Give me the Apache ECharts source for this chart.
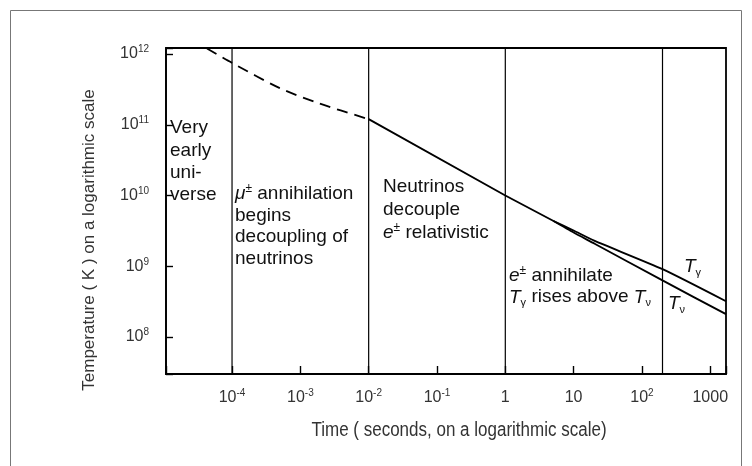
<!DOCTYPE html>
<html><head><meta charset="utf-8">
<script src="https://cdn.jsdelivr.net/npm/echarts@6/dist/echarts.min.js"></script>
<style>html,body{margin:0;padding:0;background:#fff}#c{width:752px;height:466px}</style>
</head><body><div id="c"></div>
<script>
// Time (s) and temperature (K)
const earlyTime = [4.3e-5, 1.0e-4, 5.0e-4, 1.9e-3, 1.0e-2];
const earlyTemp = [1.2e12, 7.5e11, 3.3e11, 2.0e11, 1.2e11];
const commonTime = [1.0e-2, 1.0, 5.0];
const commonTemp = [1.2e11, 1.0e10, 4.4e9];
const photonTime = [5.0, 10, 20, 200, 1700];
const photonTemp = [4.4e9, 3.2e9, 2.3e9, 9.1e8, 3.2e8];
const neutrinoTime = [5.0, 10, 20, 200, 1700];
const neutrinoTemp = [4.4e9, 3.0e9, 2.1e9, 6.3e8, 2.1e8];
const epochBoundaries = [1e-4, 1e-2, 1, 200];

const xTickValues = [1e-4, 1e-3, 1e-2, 1e-1, 1, 10, 100, 1000];
const xTickLabels = ['{b|10}{s|-4}', '{b|10}{s|-3}', '{b|10}{s|-2}', '{b|10}{s|-1}', '{b|1}', '{b|10}', '{b|10}{s|2}', '{b|1000}'];
const yTickValues = [1e8, 1e9, 1e10, 1e11, 1e12];
const yTickLabels = ['{b|10}{s|8}', '{b|10}{s|9}', '{b|10}{s|10}', '{b|10}{s|11}', '{b|10}{s|12}'];

const xRange = [1.08e-5, 1700];
const yRange = [3.0e7, 1.216e12];

function zip(a, b) { return a.map((v, i) => [v, b[i]]); }
function lookup(vals, labels, v) {
  const lv = Math.log10(v);
  for (let i = 0; i < vals.length; i++) {
    if (Math.abs(Math.log10(vals[i]) - lv) < 1e-6) return labels[i];
  }
  return '';
}

const SANS = "'Liberation Sans',Arial,sans-serif";
const TXT = '#111';
const labelRich = {
  b: { fontFamily: SANS, fontSize: 16, color: '#333', lineHeight: 19 },
  s: { fontFamily: SANS, fontSize: 10, color: '#333', lineHeight: 10, verticalAlign: 'top' }
};
const annRich = {
  i: { fontFamily: SANS, fontStyle: 'italic', fontSize: 19, fill: TXT, color: TXT },
  p: { fontFamily: SANS, fontSize: 12, fill: TXT, color: TXT, verticalAlign: 'top', lineHeight: 12 },
  u: { fontFamily: SANS, fontSize: 11, fill: TXT, color: TXT, verticalAlign: 'bottom', lineHeight: 11 }
};

function annot(x, y, text, lh) {
  return {
    type: 'text', x: x, y: y, z: 10, silent: true,
    style: {
      text: text, fill: TXT, font: "19px 'Liberation Sans', Arial, sans-serif",
      lineHeight: lh, align: 'left', verticalAlign: 'top', rich: annRich
    }
  };
}

const chart = echarts.init(document.getElementById('c'), null, { renderer: 'canvas' });
const lineBase = { type: 'line', symbol: 'none', silent: true, animation: false, z: 3 };

const boundarySeries = epochBoundaries.map((v, i) => Object.assign({}, lineBase, {
  name: 'boundary' + i,
  data: [[v, yRange[0]], [v, yRange[1]]],
  lineStyle: { color: '#000', width: 1.2 },
  z: 2
}));

chart.setOption({
  animation: false,
  backgroundColor: '#fff',
  grid: { left: 166, right: 26, top: 48, bottom: 92, show: true, borderColor: '#000', borderWidth: 1.8, backgroundColor: 'transparent' },
  xAxis: {
    type: 'log', min: xRange[0], max: xRange[1], logBase: 10,
    axisLine: { show: true, onZero: false, lineStyle: { color: '#000', width: 1.6 } },
    axisTick: { show: true, inside: true, length: 8, lineStyle: { color: '#000', width: 1.4 } },
    splitLine: { show: false }, minorTick: { show: false },
    axisLabel: { margin: 14, formatter: v => lookup(xTickValues, xTickLabels, v), rich: labelRich, showMinLabel: true, showMaxLabel: true }
  },
  yAxis: {
    type: 'log', min: yRange[0], max: yRange[1], logBase: 10,
    axisLine: { show: true, onZero: false, lineStyle: { color: '#000', width: 1.6 } },
    axisTick: { show: true, inside: true, length: 7, lineStyle: { color: '#000', width: 1.4 } },
    splitLine: { show: false },
    axisLabel: { margin: 17, formatter: v => lookup(yTickValues, yTickLabels, v), rich: labelRich }
  },
  series: [
    Object.assign({}, lineBase, { name: 'early', data: zip(earlyTime, earlyTemp), smooth: 0.3,
      lineStyle: { color: '#000', width: 1.8, type: [11, 7] } }),
    Object.assign({}, lineBase, { name: 'common', data: zip(commonTime, commonTemp),
      lineStyle: { color: '#000', width: 1.9 } }),
    Object.assign({}, lineBase, { name: 'Tgamma', data: zip(photonTime, photonTemp), smooth: 0.2,
      lineStyle: { color: '#000', width: 1.9 } }),
    Object.assign({}, lineBase, { name: 'Tnu', data: zip(neutrinoTime, neutrinoTemp), smooth: 0.2,
      lineStyle: { color: '#000', width: 1.9 } })
  ].concat(boundarySeries),
  graphic: [
    { type: 'rect', z: 0, silent: true, shape: { x: 10.5, y: 10.5, width: 731, height: 480 },
      style: { fill: 'none', stroke: '#777', lineWidth: 1 } },
    { type: 'text', z: 10, silent: true, x: 89, y: 240, rotation: Math.PI / 2,
      style: { text: 'Temperature ( K ) on a logarithmic scale', fill: '#333',
        font: "17px 'Liberation Sans', Arial, sans-serif", align: 'center', verticalAlign: 'middle' } },
    { type: 'text', z: 10, silent: true, x: 459, y: 430, scaleX: 0.85,
      style: { text: 'Time ( seconds, on a logarithmic scale)', fill: '#333',
        font: "20px 'Liberation Sans', Arial, sans-serif",
        align: 'center', verticalAlign: 'middle' } },
    annot(170, 117, 'Very\nearly\nuni-\nverse', 22.3),
    annot(235, 183, '{i|μ}{p|±} annihilation\nbegins\ndecoupling of\nneutrinos', 21.6),
    annot(383, 175.5, 'Neutrinos\ndecouple\n{i|e}{p|±} relativistic', 23),
    annot(509, 265, '{i|e}{p|±} annihilate\n{i|T}{u|γ} rises above {i|T}{u|ν}', 21.5),
    annot(684, 256, '{i|T}{u|γ}', 22),
    annot(668, 293, '{i|T}{u|ν}', 22)
  ]
});
</script></body></html>
